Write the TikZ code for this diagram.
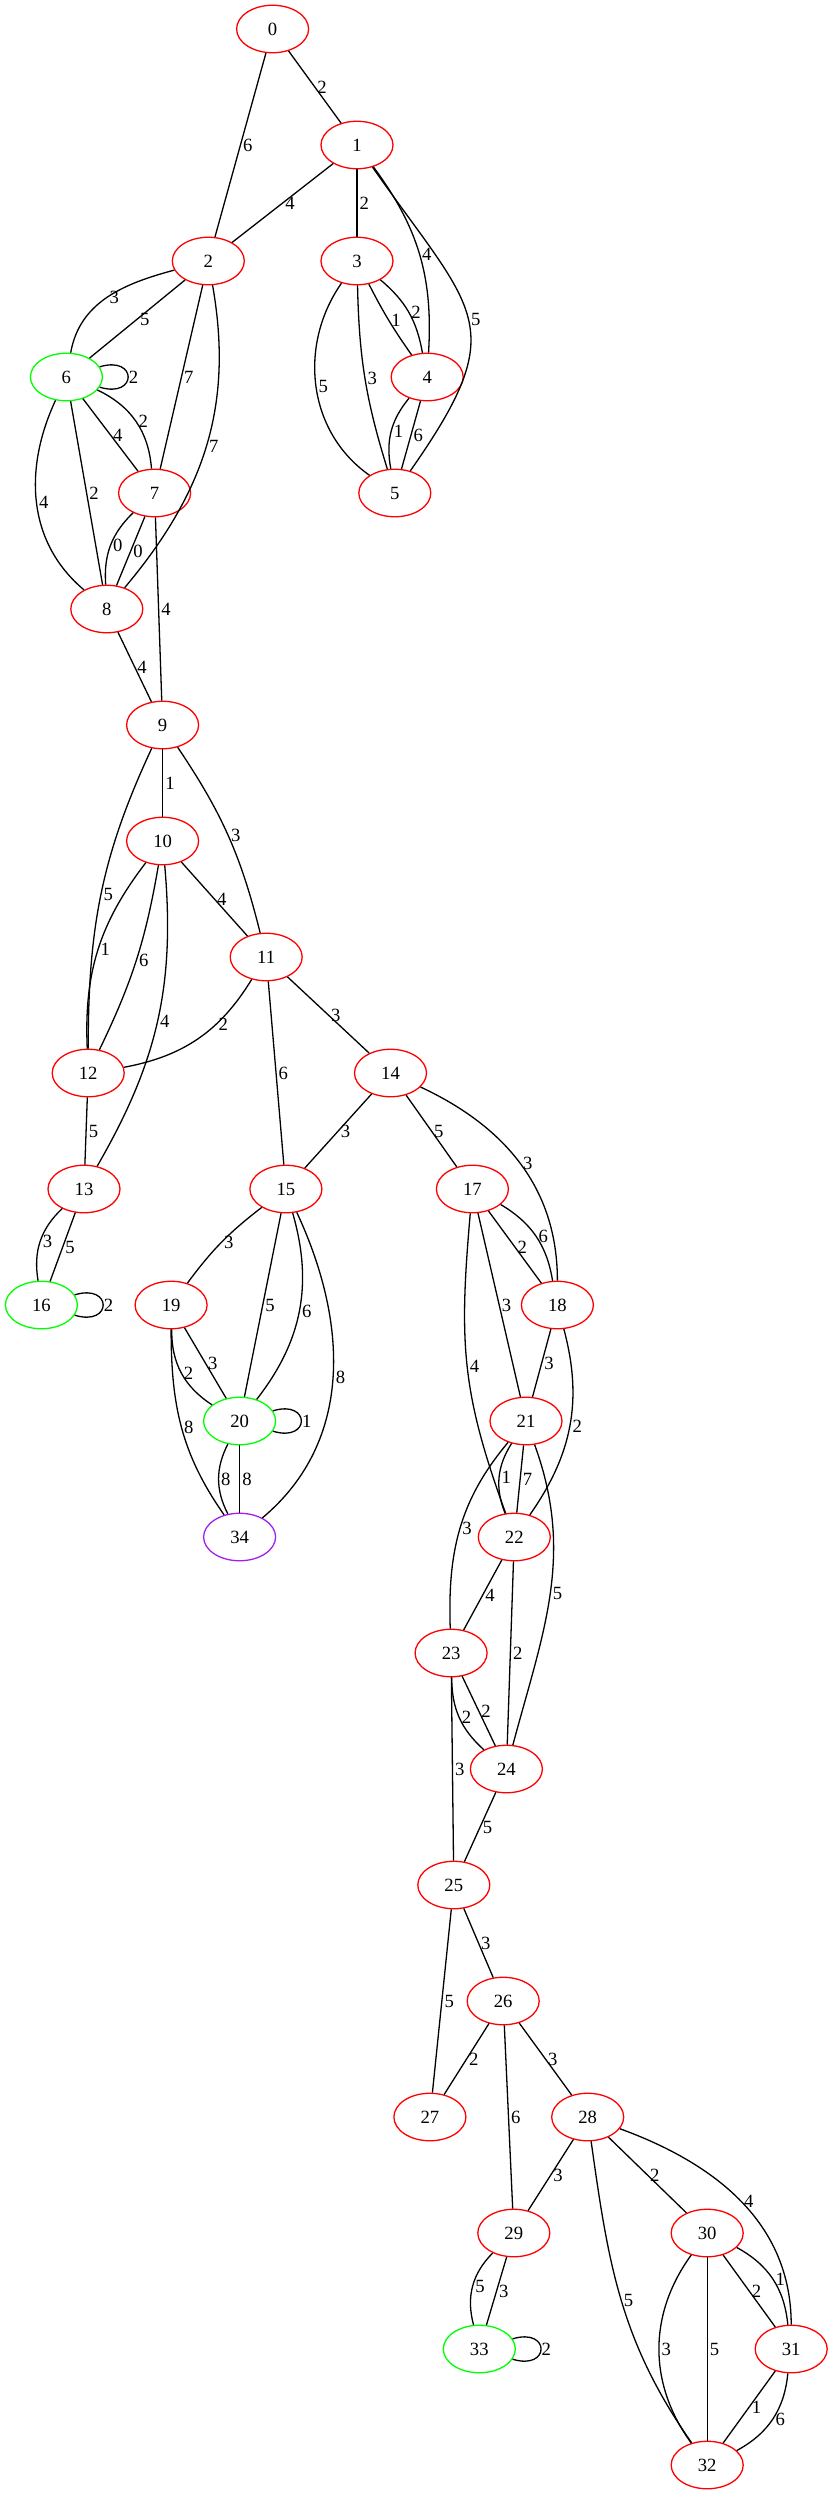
\documentclass[tikz,border=0pt]{standalone}
\usepackage{fontspec}
\setmainfont{Liberation Serif}
\usetikzlibrary{shapes.geometric}
\definecolor{vpurple}{RGB}{160,32,240}
\tikzset{
  vtx/.style={ellipse, draw=red, line width=1.3pt, minimum width=72pt, minimum height=47.5pt, inner sep=0pt, font=\fontsize{18.67}{20}\selectfont},
  start/.style={vtx, draw=green},
  sink/.style={vtx, draw=vpurple},
  lbl/.style={midway, anchor=west, inner sep=2pt, font=\fontsize{18.67}{20}\selectfont},
  selfloop/.style={out=17, in=-17, looseness=5}
}
\begin{document}
\begin{tikzpicture}[x=1pt, y=-1pt, line width=1.3pt]
                    \useasboundingbox (0,0) rectangle (829,2495);

                    \node (n0) [vtx] at (272.6,29) {0};
                    \node (n1) [vtx] at (357,145) {1};
                    \node (n2) [vtx] at (208.3,261) {2};
                    \node (n3) [vtx] at (357,261) {3};
                    \node (n4) [vtx] at (427.2,377) {4};
                    \node (n5) [vtx] at (394.8,493) {5};
                    \node (n6) [start] at (66.4,377) {6};
                    \node (n7) [vtx] at (154.6,493) {7};
                    \node (n8) [vtx] at (106.8,609) {8};
                    \node (n9) [vtx] at (162.6,725) {9};
                    \node (n10) [vtx] at (162.6,841) {10};
                    \node (n11) [vtx] at (266.2,957) {11};
                    \node (n12) [vtx] at (88.2,1073) {12};
                    \node (n13) [vtx] at (84,1189) {13};
                    \node (n14) [vtx] at (390.5,1073) {14};
                    \node (n15) [vtx] at (285.9,1189) {15};
                    \node (n16) [start] at (41.4,1305) {16};
                    \node (n17) [vtx] at (472.4,1189) {17};
                    \node (n18) [vtx] at (557.4,1305) {18};
                    \node (n19) [vtx] at (171.1,1305) {19};
                    \node (n20) [start] at (239.6,1421) {20};
                    \node (n21) [vtx] at (526,1421) {21};
                    \node (n22) [vtx] at (514.3,1537) {22};
                    \node (n23) [vtx] at (451.1,1653) {23};
                    \node (n24) [vtx] at (506.4,1769) {24};
                    \node (n25) [vtx] at (453.8,1885) {25};
                    \node (n26) [vtx] at (503.2,2001) {26};
                    \node (n27) [vtx] at (429.9,2117) {27};
                    \node (n28) [vtx] at (587.7,2117) {28};
                    \node (n29) [vtx] at (513.8,2233) {29};
                    \node (n30) [vtx] at (707.2,2233) {30};
                    \node (n31) [vtx] at (791.2,2349) {31};
                    \node (n32) [vtx] at (707.2,2465) {32};
                    \node (n33) [start] at (479.3,2349) {33};
                    \node (n34) [sink] at (239.6,1537) {34};

                    % upper part
                    \path
                        (n0) edge node[lbl] {2} (n1)
                        (n0) edge node[lbl] {6} (n2)
                        (n1) edge node[lbl] {4} (n2)
                        (n1) edge node[lbl] {2} (n3)
                        (n1) edge [bend left=20] node[lbl] {4} (n4)
                        (n1) edge [out=-55, in=55, looseness=1.5] node[lbl] {5} (n5)
                        (n2) edge [out=195, in=80] node[lbl] {3} (n6)
                        (n2) edge node[lbl] {5} (n6)
                        (n2) edge node[lbl] {7} (n7)
                        (n2) edge [out=-80, in=50] node[lbl] {7} (n8)
                        (n3) edge [bend right=4] node[lbl] {1} (n4)
                        (n3) edge [bend left=20] node[lbl] {2} (n4)
                        (n3) edge [out=235, in=145] node[lbl] {5} (n5)
                        (n3) edge [bend right=8] node[lbl] {3} (n5)
                        (n4) edge [bend right=25] node[lbl] {1} (n5)
                        (n4) edge node[lbl] {6} (n5)
                        (n6) edge [selfloop] node[lbl, inner sep=0pt] {2} (n6)
                        (n6) edge node[lbl] {4} (n7)
                        (n6) edge [bend left=30] node[lbl] {2} (n7)
                        (n6) edge [out=245, in=140] node[lbl] {4} (n8)
                        (n6) edge node[lbl] {2} (n8)
                        (n7) edge [bend right=25] node[lbl] {0} (n8)
                        (n7) edge node[lbl] {0} (n8)
                        (n7) edge node[lbl] {4} (n9)
                        (n8) edge node[lbl] {4} (n9)
                    ;

                    % middle part
                    \path
                        (n9) edge node[lbl] {1} (n10)
                        (n9) edge [bend left=10] node[lbl] {3} (n11)
                        (n9) edge [out=245, in=90] node[lbl] {5} (n12)
                        (n10) edge node[lbl] {4} (n11)
                        (n10) edge [bend right=20] node[lbl] {1} (n12)
                        (n10) edge [bend left=8] node[lbl] {6} (n12)
                        (n10) edge [out=-85, in=60] node[lbl] {4} (n13)
                        (n11) edge [bend left=24] node[lbl, pos=0.35] {2} (n12)
                        (n11) edge node[lbl] {3} (n14)
                        (n11) edge node[lbl] {6} (n15)
                        (n12) edge node[lbl] {5} (n13)
                        (n13) edge [bend right=28] node[lbl] {3} (n16)
                        (n13) edge node[lbl] {5} (n16)
                        (n14) edge node[lbl] {3} (n15)
                        (n14) edge node[lbl] {5} (n17)
                        (n14) edge [out=-25, in=90] node[lbl] {3} (n18)
                        (n15) edge [bend right=8] node[lbl] {3} (n19)
                        (n15) edge node[lbl] {5} (n20)
                        (n15) edge [bend left=27] node[lbl] {6} (n20)
                        (n15) edge [out=-65, in=40] node[lbl] {8} (n34)
                        (n16) edge [selfloop] node[lbl, inner sep=0pt] {2} (n16)
                        (n17) edge node[lbl] {2} (n18)
                        (n17) edge [bend left=25] node[lbl] {6} (n18)
                        (n17) edge node[lbl] {3} (n21)
                        (n17) edge [out=-95, in=110, looseness=1.1] node[lbl] {4} (n22)
                        (n18) edge node[lbl] {3} (n21)
                        (n18) edge [out=-75, in=55] node[lbl] {2} (n22)
                        (n19) edge [bend right=29] node[lbl] {2} (n20)
                        (n19) edge node[lbl] {3} (n20)
                        (n19) edge [out=-90, in=125] node[lbl] {8} (n34)
                        (n20) edge [selfloop] node[lbl, inner sep=0pt] {1} (n20)
                        (n20) edge [bend right=27] node[lbl] {8} (n34)
                        (n20) edge node[lbl] {8} (n34)
                    ;

                    % lower part
                    \path
                        (n21) edge [bend right=27] node[lbl] {1} (n22)
                        (n21) edge node[lbl] {7} (n22)
                        (n21) edge [out=230, in=92] node[lbl] {3} (n23)
                        (n21) edge [out=-70, in=75] node[lbl] {5} (n24)
                        (n22) edge node[lbl] {4} (n23)
                        (n22) edge node[lbl] {2} (n24)
                        (n23) edge [bend right=24] node[lbl] {2} (n24)
                        (n23) edge node[lbl] {2} (n24)
                        (n23) edge node[lbl] {3} (n25)
                        (n24) edge node[lbl] {5} (n25)
                        (n25) edge node[lbl] {3} (n26)
                        (n25) edge node[lbl] {5} (n27)
                        (n26) edge node[lbl] {2} (n27)
                        (n26) edge node[lbl] {3} (n28)
                        (n26) edge node[lbl] {6} (n29)
                        (n28) edge node[lbl] {3} (n29)
                        (n28) edge node[lbl] {2} (n30)
                        (n28) edge [out=-20, in=90] node[lbl] {4} (n31)
                        (n28) edge [out=-82, in=125] node[lbl] {5} (n32)
                        (n29) edge [bend right=30] node[lbl] {5} (n33)
                        (n29) edge node[lbl] {3} (n33)
                        (n33) edge [selfloop] node[lbl, inner sep=0pt] {2} (n33)
                        (n30) edge node[lbl] {2} (n31)
                        (n30) edge [bend left=28] node[lbl] {1} (n31)
                        (n30) edge [bend right=36] node[lbl] {3} (n32)
                        (n30) edge node[lbl] {5} (n32)
                        (n31) edge node[lbl] {1} (n32)
                        (n31) edge [bend left=28] node[lbl] {6} (n32)
                    ;
                \end{tikzpicture}
\end{document}
